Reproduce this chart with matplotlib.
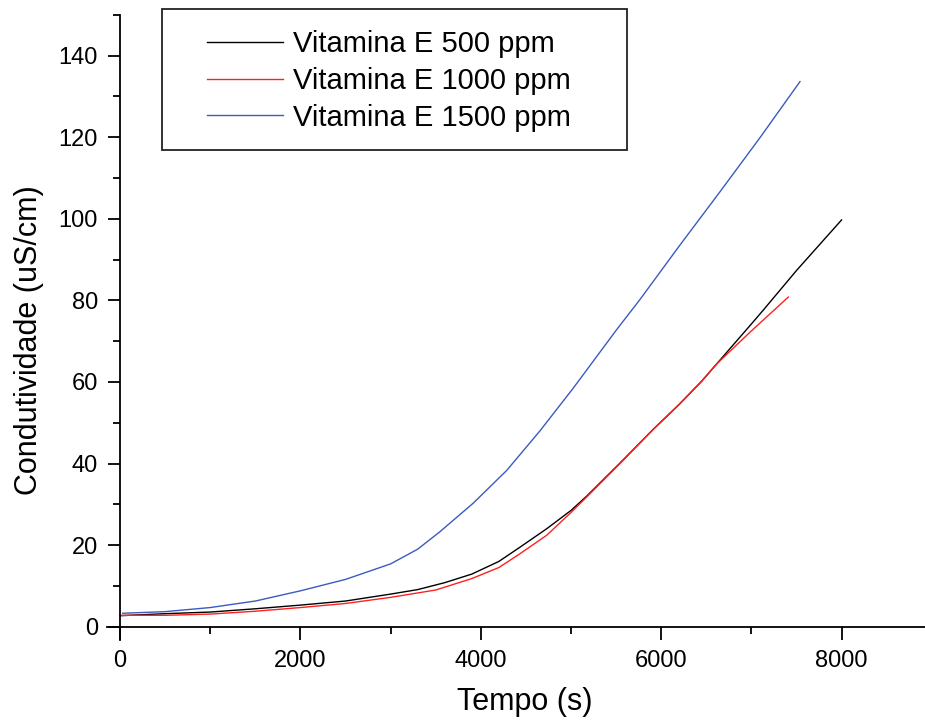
import matplotlib
matplotlib.use("Agg")
import matplotlib.pyplot as plt
from matplotlib.patches import Rectangle
from matplotlib.ticker import MultipleLocator

plt.rcParams['font.family'] = ['Liberation Sans', 'DejaVu Sans']

# Vitamina E 500 ppm
t_500 = [0, 500, 1000, 1500, 2000, 2500, 3000, 3300, 3600, 3900, 4200, 4435,
         4730, 5000, 5174, 5543, 5913, 6200, 6450, 6615, 7000, 7132, 7500, 8000]
c_500 = [2.7, 3.2, 3.6, 4.4, 5.3, 6.3, 8.0, 9.1, 10.8, 12.9, 16.0, 19.5,
         24.0, 28.5, 32.0, 40.1, 48.4, 54.5, 60.2, 64.4, 74.2, 77.6, 87.3, 99.7]

# Vitamina E 1000 ppm
t_1000 = [0, 500, 1000, 1500, 2000, 2500, 3000, 3500, 3900, 4200, 4435, 4730,
          5000, 5174, 5543, 5913, 6200, 6450, 6615, 7000, 7410]
c_1000 = [2.8, 2.8, 3.1, 3.8, 4.7, 5.7, 7.2, 9.0, 11.8, 14.5, 17.9, 22.4,
          28.0, 31.8, 40.0, 48.4, 54.5, 60.2, 64.4, 72.5, 80.8]

# Vitamina E 1500 ppm
t_1500 = [30, 500, 1000, 1500, 2000, 2500, 3000, 3300, 3548, 3917, 4287, 4656,
          5026, 5506, 5765, 6200, 6652, 7100, 7539]
c_1500 = [3.3, 3.7, 4.7, 6.3, 8.8, 11.6, 15.4, 19.0, 23.3, 30.3, 38.3, 48.0,
          58.5, 72.8, 80.2, 93.3, 106.6, 120.0, 133.6]

labels = ['Vitamina E 500 ppm', 'Vitamina E 1000 ppm', 'Vitamina E 1500 ppm']
colors = ['#000000', '#ff2020', '#3a5bbf']

W, H = 925, 721
fig = plt.figure(figsize=(W / 100, H / 100), dpi=100)
ax_l, ax_r, ax_t, ax_b = 107, 925, 14.7, 640
ax = fig.add_axes([ax_l / W, 1 - ax_b / H, (ax_r - ax_l) / W, (ax_b - ax_t) / H])

ax.plot(t_500, c_500, color=colors[0], lw=1.0, label=labels[0])
ax.plot(t_1000, c_1000, color=colors[1], lw=1.0, label=labels[1])
ax.plot(t_1500, c_1500, color=colors[2], lw=1.0, label=labels[2])

ax.set_xlim(-144, 8925)
ax.set_ylim(-3.25, 150)

ax.spines['top'].set_visible(False)
ax.spines['right'].set_visible(False)
ax.spines['left'].set_position(('data', 0))
ax.spines['bottom'].set_position(('data', 0))
for s in ('left', 'bottom'):
    ax.spines[s].set_linewidth(1.3)

ax.xaxis.set_major_locator(MultipleLocator(2000))
ax.xaxis.set_minor_locator(MultipleLocator(1000))
ax.yaxis.set_major_locator(MultipleLocator(20))
ax.yaxis.set_minor_locator(MultipleLocator(10))
ax.tick_params(which='major', direction='out', length=9, width=1.3, labelsize=17, pad=7)
ax.tick_params(which='minor', direction='out', length=5, width=1.3)
ax.tick_params(axis='x', which='major', pad=8)

ax.set_xlabel('Tempo (s)', fontsize=22)
ax.set_ylabel('Condutividade (uS/cm)', fontsize=22)
ax.xaxis.set_label_coords(0.511, -0.075)
ax.yaxis.set_label_coords(-0.077, 0.48)

# legend box drawn separately so the padding matches
bx0, bx1, by0, by1 = 162, 627, 9, 150
fig.patches.append(Rectangle((bx0 / W, 1 - by1 / H), (bx1 - bx0) / W, (by1 - by0) / H,
                             transform=fig.transFigure, fill=False, ec='#222222', lw=1.3))
fig.legend(loc='upper left', bbox_to_anchor=(206.7 / W, 1 - 30 / H), frameon=False,
           fontsize=21, handlelength=2.6, handletextpad=0.35, labelspacing=0.3,
           borderpad=0, borderaxespad=0)

fig.savefig('out.png', dpi=100)
